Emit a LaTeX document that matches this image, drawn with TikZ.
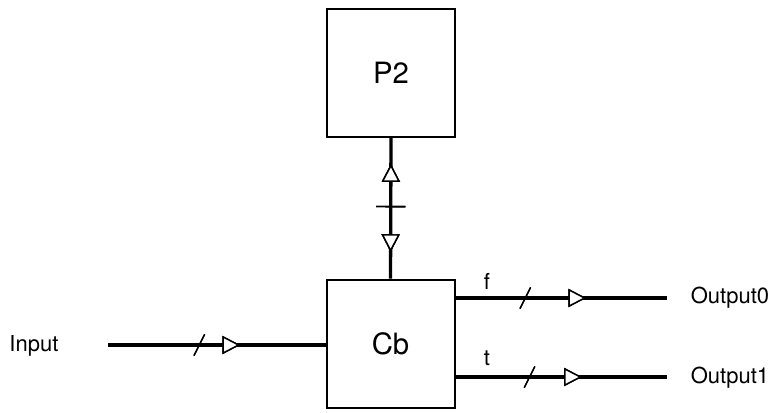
\documentclass[tikz,border=0pt]{standalone}
\usepackage{fontspec}
\setmainfont{TeX Gyre Heros}
\usetikzlibrary{decorations.markings}
\begin{document}
\begin{tikzpicture}[x=0.75pt,y=-0.75pt,
  blk/.style={draw,line width=1.5pt,minimum width=96pt,minimum height=96pt,inner sep=0pt,font=\fontsize{22}{26}\selectfont},
  lbl/.style={font=\fontsize{16.5}{19}\selectfont,inner sep=1pt},
  wire/.style={line width=2.5pt},
  tri/.style={draw,line width=1.1pt,fill=white,line join=miter},
  fwd/.style={postaction={decorate},decoration={markings,
     mark=at position #1 with {\draw[tri] (0,0) -- (-11.5pt,6pt) -- (-11.5pt,-6pt) -- cycle;}}},
  bwd/.style={postaction={decorate},decoration={markings,
     mark=at position #1 with {\draw[tri] (0,0) -- (11.5pt,6pt) -- (11.5pt,-6pt) -- cycle;}}},
  slash/.style={postaction={decorate},decoration={markings,
     mark=at position #1 with {\draw[line width=1pt] (-4pt,-8pt) -- (4pt,8pt);}}},
  tick/.style={postaction={decorate},decoration={markings,
     mark=at position #1 with {\draw[line width=1pt] (0,-11pt) -- (0,11pt);}}}
]
\useasboundingbox (0,0) rectangle (777,412);
\node[blk] (p2) at (391,72.5) {P2};
\node[blk] (cb) at (390.5,343.5) {Cb};
\coordinate (inS) at (108,345);
\coordinate (o0E) at (667,298);
\coordinate (o1E) at (667,377);
\node[lbl] (inL) at (34,346) {Input};
\node[lbl] (o0L) at (730,298) {Output0};
\node[lbl] (o1L) at (730,378) {Output1};
\node[lbl] (fL) at (487,281) {f};
\node[lbl] (tL) at (487,358) {t};
% vertical bidirectional link
\draw[wire,fwd=0.8,bwd=0.2,tick=0.51] (cb.north) -- (p2.south);
% input
\draw[wire,slash=0.42,fwd=0.6] (inS) -- (cb.west |- inS);
% outputs
\draw[wire,slash=0.33,fwd=0.61] (cb.east |- o0E) -- (o0E);
\draw[wire,slash=0.35,fwd=0.59] (cb.east |- o1E) -- (o1E);
\end{tikzpicture}
\end{document}
